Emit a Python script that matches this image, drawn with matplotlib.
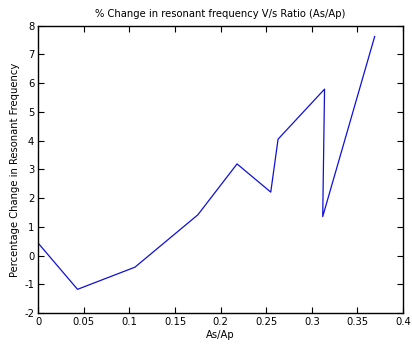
import matplotlib
matplotlib.use('Agg')
import matplotlib.pyplot as plt

# ratio As/Ap and % change in resonant frequency
ratio = [0.0, 0.043, 0.106, 0.175, 0.218, 0.255, 0.263, 0.314, 0.312, 0.369]
pct_change = [0.43, -1.17, -0.40, 1.42, 3.19, 2.21, 4.05, 5.79, 1.36, 7.62]

plt.rcParams['axes.unicode_minus'] = False
plt.rcParams['font.size'] = 7.2

fig = plt.figure(figsize=(4.12, 3.6), dpi=100)
ax = fig.add_axes([0.093, 0.130, 0.885, 0.799])
ax.plot(ratio, pct_change, color='#1010d8', linewidth=0.9)

ax.set_xlim(0, 0.4)
ax.set_ylim(-2, 8)
ax.set_xticks([0, 0.05, 0.1, 0.15, 0.2, 0.25, 0.3, 0.35, 0.4])
ax.set_xticklabels(['0', '0.05', '0.1', '0.15', '0.2', '0.25', '0.3', '0.35', '0.4'])
ax.set_yticks(range(-2, 9))
ax.tick_params(direction='in', top=True, right=True, length=4, width=0.8, pad=3)
for s in ax.spines.values():
    s.set_linewidth(1.0)

ax.set_title('% Change in resonant frequency V/s Ratio (As/Ap)', fontsize=7.2, pad=6)
ax.set_xlabel('As/Ap', labelpad=2)
ax.set_ylabel('Percentage Change in Resonant Frequency', labelpad=3)

fig.savefig('out.png', dpi=100)
